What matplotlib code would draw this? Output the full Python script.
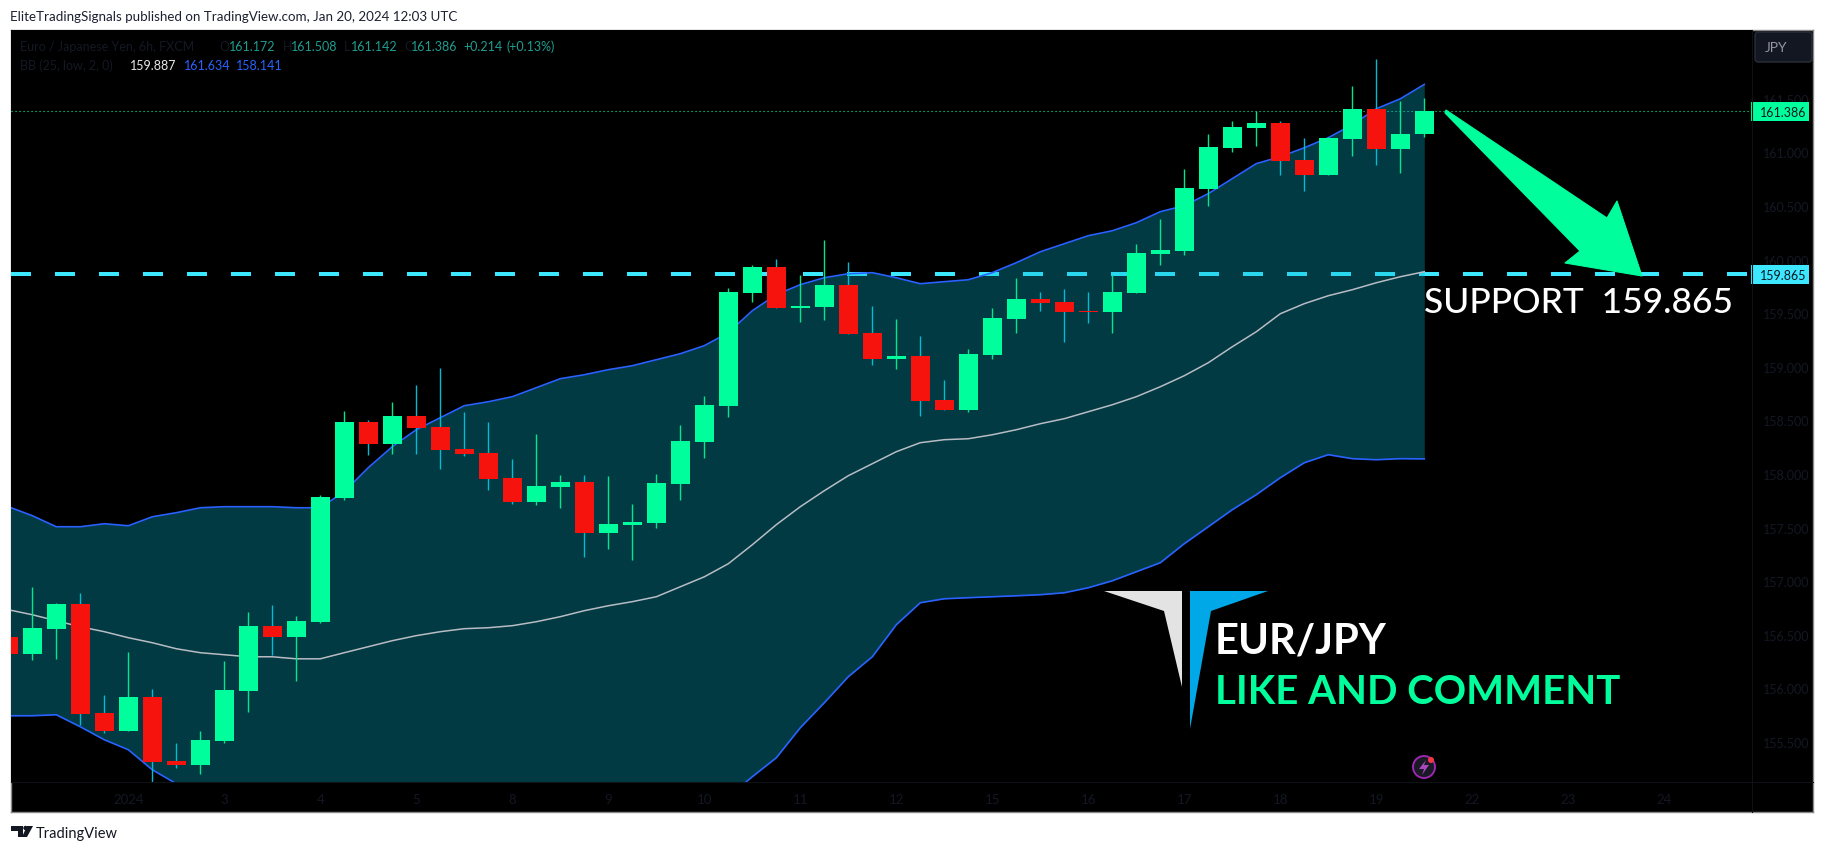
import numpy as np
import matplotlib
matplotlib.use('Agg')
import matplotlib.pyplot as plt
from matplotlib.patches import Polygon, Rectangle, Circle, FancyBboxPatch

# 6h EUR/JPY candles, first one is cut by the left edge
opens = [156.482, 156.323, 156.556, 156.790, 155.773, 155.605, 155.922, 155.325, 155.288, 155.512,
         155.978, 156.584, 156.482, 156.622, 157.779, 158.487, 158.282, 158.544, 158.441, 158.236,
         158.199, 157.965, 157.741, 157.881, 157.928, 157.452, 157.527, 157.545, 157.909, 158.301,
         158.637, 159.691, 159.933, 159.551, 159.560, 159.766, 159.318, 159.075, 159.103, 158.693,
         158.600, 159.113, 159.449, 159.635, 159.607, 159.523, 159.514, 159.691, 160.055, 160.083,
         160.661, 161.043, 161.230, 161.277, 160.932, 160.792, 161.127, 161.407, 161.034, 161.172]
highs = [156.528, 156.948, 156.799, 156.892, 155.941, 156.342, 155.997, 155.493, 155.605, 156.258,
         156.715, 156.780, 156.678, 157.807, 158.590, 158.506, 158.674, 158.833, 158.991, 158.581,
         158.487, 158.142, 158.375, 157.993, 157.993, 157.984, 157.723, 158.002, 158.459, 158.730,
         159.738, 159.952, 160.008, 159.859, 160.185, 159.980, 159.570, 159.449, 159.290, 158.879,
         159.169, 159.551, 159.831, 159.701, 159.729, 159.701, 159.859, 160.148, 160.381, 160.848,
         161.174, 161.295, 161.389, 161.295, 161.137, 161.146, 161.622, 161.874, 161.482, 161.508]
lows = [156.267, 156.267, 156.276, 155.661, 155.586, 155.605, 155.120, 155.260, 155.204, 155.493,
        155.782, 156.314, 156.071, 156.612, 157.760, 158.180, 158.189, 158.189, 158.049, 158.171,
        157.853, 157.723, 157.713, 157.685, 157.228, 157.303, 157.200, 157.499, 157.760, 158.152,
        158.534, 159.607, 159.551, 159.421, 159.439, 159.309, 159.019, 158.982, 158.544, 158.600,
        158.581, 159.075, 159.318, 159.523, 159.234, 159.411, 159.318, 159.691, 159.952, 160.045,
        160.503, 161.006, 161.062, 160.792, 160.643, 160.792, 160.969, 160.885, 160.810, 161.142]
closes = [156.323, 156.566, 156.790, 155.763, 155.605, 155.922, 155.316, 155.288, 155.521, 155.987,
          156.584, 156.482, 156.631, 157.788, 158.487, 158.282, 158.544, 158.431, 158.226, 158.189,
          157.956, 157.741, 157.891, 157.928, 157.452, 157.536, 157.555, 157.918, 158.310, 158.646,
          159.701, 159.933, 159.551, 159.570, 159.766, 159.309, 159.075, 159.103, 158.684, 158.600,
          159.122, 159.458, 159.635, 159.598, 159.514, 159.514, 159.701, 160.064, 160.092, 160.670,
          161.053, 161.239, 161.277, 160.922, 160.792, 161.137, 161.407, 161.034, 161.174, 161.386]

# bollinger bands, 25 periods
bb_upper = [157.695, 157.611, 157.508, 157.508, 157.536, 157.517, 157.601, 157.639, 157.685, 157.695,
            157.695, 157.695, 157.685, 157.685, 157.835, 158.059, 158.255, 158.413, 158.525, 158.637,
            158.674, 158.721, 158.805, 158.889, 158.926, 158.973, 159.010, 159.066, 159.122, 159.197,
            159.318, 159.523, 159.673, 159.766, 159.831, 159.868, 159.878, 159.831, 159.775, 159.794,
            159.812, 159.878, 159.971, 160.073, 160.148, 160.223, 160.269, 160.344, 160.447, 160.503,
            160.615, 160.755, 160.895, 160.960, 161.043, 161.137, 161.258, 161.407, 161.500, 161.634]
bb_mid = [156.734, 156.687, 156.631, 156.575, 156.529, 156.473, 156.426, 156.370, 156.333, 156.314,
          156.295, 156.295, 156.276, 156.276, 156.333, 156.389, 156.445, 156.492, 156.529, 156.557,
          156.566, 156.585, 156.622, 156.669, 156.725, 156.771, 156.809, 156.855, 156.948, 157.041,
          157.163, 157.340, 157.527, 157.695, 157.844, 157.984, 158.096, 158.208, 158.292, 158.320,
          158.329, 158.366, 158.413, 158.469, 158.516, 158.581, 158.646, 158.721, 158.814, 158.917,
          159.038, 159.187, 159.327, 159.495, 159.589, 159.663, 159.719, 159.784, 159.840, 159.887]
# the stretch under the chart bottom is hidden in the picture, rough guess there
bb_lower = [155.745, 155.745, 155.754, 155.642, 155.521, 155.428, 155.241, 155.111, 155.000, 154.900,
            154.850, 154.700, 154.600, 154.500, 154.500, 154.600, 154.700, 154.750, 154.800, 154.800,
            154.850, 154.850, 154.900, 154.900, 154.900, 154.900, 154.950, 154.950, 154.950, 154.950,
            154.990, 155.176, 155.353, 155.633, 155.866, 156.109, 156.295, 156.594, 156.799, 156.836,
            156.846, 156.855, 156.864, 156.874, 156.892, 156.939, 157.004, 157.088, 157.172, 157.350,
            157.508, 157.667, 157.807, 157.965, 158.105, 158.180, 158.143, 158.133, 158.143, 158.141]

last_price = 161.386
support = 159.865
price_ticks = [155.5, 156.0, 156.5, 157.0, 157.5, 158.0, 158.5, 159.0, 159.5, 160.0, 160.5, 161.0, 161.5]
date_ticks = [4, 8, 12, 16, 20, 24, 28, 32, 36, 40, 44, 48, 52, 56, 60, 64, 68]
date_labels = ['2024', '3', '4', '5', '8', '9', '10', '11', '12', '15', '16', '17', '18', '19', '22', '23', '24']

GREEN = '#00ff9c'
RED = '#f7130d'
FAINT = '#141824'
W, H = 1825, 853
Y161 = 153.4  # pixel row of price 161

plt.rcParams['font.family'] = ['Lato', 'DejaVu Sans']

fig = plt.figure(figsize=(W / 100, H / 100), dpi=100, facecolor='white')


def box(x0, y0, x1, y1):
    return [x0 / W, 1 - y1 / H, (x1 - x0) / W, (y1 - y0) / H]


panel = fig.add_axes(box(11, 31, 1813, 813), facecolor='black', zorder=0)
panel.set_xticks([])
panel.set_yticks([])
for s in panel.spines.values():
    s.set_color('#8a8a8a')
    s.set_linewidth(1)

ax = fig.add_axes(box(11, 31, 1752, 783), facecolor='black', zorder=1)
ax.set_xlim((11 - 32.3) / 24, (1752 - 32.3) / 24)
ax.set_ylim(161 - (783 - Y161) / 107.2, 161 + (Y161 - 31) / 107.2)
for s in ax.spines.values():
    s.set_visible(False)

xs = np.arange(-1, 59)
o = np.array(opens)
c = np.array(closes)
up = c >= o

# dashes sit under the band, candles on top of everything
ax.axhline(support, color='#3be8ff', lw=2.88, ls=(0, (5, 6)), dash_capstyle='butt', zorder=1,
           xmax=(1748 - 11) / (1752 - 11))
ax.axhline(last_price, color=GREEN, lw=0.8, ls=(0, (1, 2.6)), zorder=1)

ax.fill_between(xs, bb_lower, bb_upper, color='#06b5ce', alpha=0.32, lw=0, zorder=2)
ax.plot(xs, bb_upper, color='#2962ff', lw=1.2, zorder=3)
ax.plot(xs, bb_lower, color='#2962ff', lw=1.2, zorder=3)
ax.plot(xs, bb_mid, color='#b8bcc4', lw=1.1, zorder=3)

ax.vlines(xs[up], np.array(lows)[up], np.array(highs)[up], color='#00e88a', lw=1.0, zorder=4)
ax.vlines(xs[~up], np.array(lows)[~up], np.array(highs)[~up], color='#00bcd4', lw=1.0, zorder=4)
bottoms = np.minimum(o, c)
heights = np.abs(c - o)
ax.bar(xs[up], heights[up], bottom=bottoms[up], width=19 / 24, color=GREEN, lw=0, zorder=5)
ax.bar(xs[~up], heights[~up], bottom=bottoms[~up], width=19 / 24, color=RED, lw=0, zorder=5)

ax.yaxis.tick_right()
ax.set_yticks(price_ticks, ['%.3f' % p for p in price_ticks])
ax.set_xticks(date_ticks, date_labels)
ax.tick_params(axis='y', length=0, pad=8, labelsize=9, labelcolor=FAINT)
ax.tick_params(axis='x', length=0, pad=8, labelsize=9.5, labelcolor=FAINT)

# everything else is placed in picture pixels
ov = fig.add_axes([0, 0, 1, 1], facecolor='none', zorder=2)
ov.set_xlim(0, W)
ov.set_ylim(H, 0)
ov.axis('off')


def price_y(p):
    return Y161 + (161 - p) * 107.2


ov.plot([11, 1813], [783, 783], color='#101116', lw=0.8)
ov.plot([1752, 1752], [31, 813], color='#101116', lw=0.8)

ov.text(10, 17, 'EliteTradingSignals published on TradingView.com, Jan 20, 2024 12:03 UTC',
        fontsize=9.6, color='#1c2030', va='center')

TEAL = '#1f9e90'
BLUE = '#2962ff'
legend_row1 = [(20, 'Euro / Japanese Yen, 6h, FXCM', FAINT), (219, 'O', FAINT), (229, '161.172', TEAL),
               (283, 'H', FAINT), (291, '161.508', TEAL), (344, 'L', FAINT), (351, '161.142', TEAL),
               (404, 'C', FAINT), (411, '161.386', TEAL), (463, '+0.214', TEAL), (507, '(+0.13%)', TEAL)]
legend_row2 = [(20, 'BB (25, low, 2, 0)', FAINT), (130, '159.887', '#e8e8e8'), (184, '161.634', BLUE),
               (236, '158.141', BLUE)]
for lx, s, col in legend_row1:
    ov.text(lx, 47, s, fontsize=9, color=col, va='center')
for lx, s, col in legend_row2:
    ov.text(lx, 66, s, fontsize=9, color=col, va='center')

# price tags
for p, col in [(last_price, GREEN), (support, '#3be8ff')]:
    py = price_y(p)
    ov.add_patch(Rectangle((1751, py - 9.5), 58, 19, fc=col, ec='none'))
    ov.text(1760, py + 0.5, '%.3f' % p, fontsize=9, color='#131722', va='center')

ov.add_patch(FancyBboxPatch((1755, 33), 57, 30, boxstyle='round,pad=0,rounding_size=3',
                            fc='#131722', ec='#2a2e39', lw=1))
ov.text(1765, 48, 'JPY', fontsize=10, color='#9598a1', va='center')

# drawn arrow
ov.add_patch(Polygon([(1446, 111), (1607, 219), (1617, 202), (1642, 277), (1565, 264), (1580, 252), (1445, 114)],
                     closed=True, fc=GREEN, ec=GREEN, lw=0.8, joinstyle='round'))

ov.text(1424, 303, 'SUPPORT  159.865', fontsize=25.5, color='white', va='center', weight='medium')
ov.text(1215, 641, 'EUR/JPY', fontsize=30, color='white', va='center', weight='bold')
ov.text(1215, 692, 'LIKE AND COMMENT', fontsize=28.9, color=GREEN, va='center', weight='bold')

# logo of the publisher
ov.add_patch(Polygon([(1104, 592), (1182, 592), (1182, 688), (1164, 612)], closed=True, fc='#e3e3e3', ec='none'))
ov.add_patch(Polygon([(1190, 592), (1268, 592), (1211, 612), (1190, 730)], closed=True, fc='#01a8e8', ec='none'))

# lightning badge
ov.add_patch(Circle((1424, 768), 11, fc='#1a1a26', ec='#9c27b0', lw=1.4))
ov.add_patch(Polygon([(1426, 761), (1419, 770), (1424, 770), (1422, 776), (1429, 766), (1424, 766)],
                     closed=True, fc='#ab47bc', ec='none'))
ov.add_patch(Circle((1431, 761), 3, fc='#f23645', ec='none'))

# TradingView footer mark
ov.add_patch(Polygon([(11, 827), (23, 827), (23, 838), (18, 838), (18, 832), (11, 832)], closed=True, fc='#131722', ec='none'))
ov.add_patch(Circle((25.5, 829), 2.2, fc='#131722', ec='none'))
ov.add_patch(Polygon([(27, 838), (22, 838), (27, 827), (33, 827)], closed=True, fc='#131722', ec='none'))
ov.text(36, 834, 'TradingView', fontsize=10.5, color='#131722', va='center')

fig.savefig('out.png', dpi=100, facecolor='white')
